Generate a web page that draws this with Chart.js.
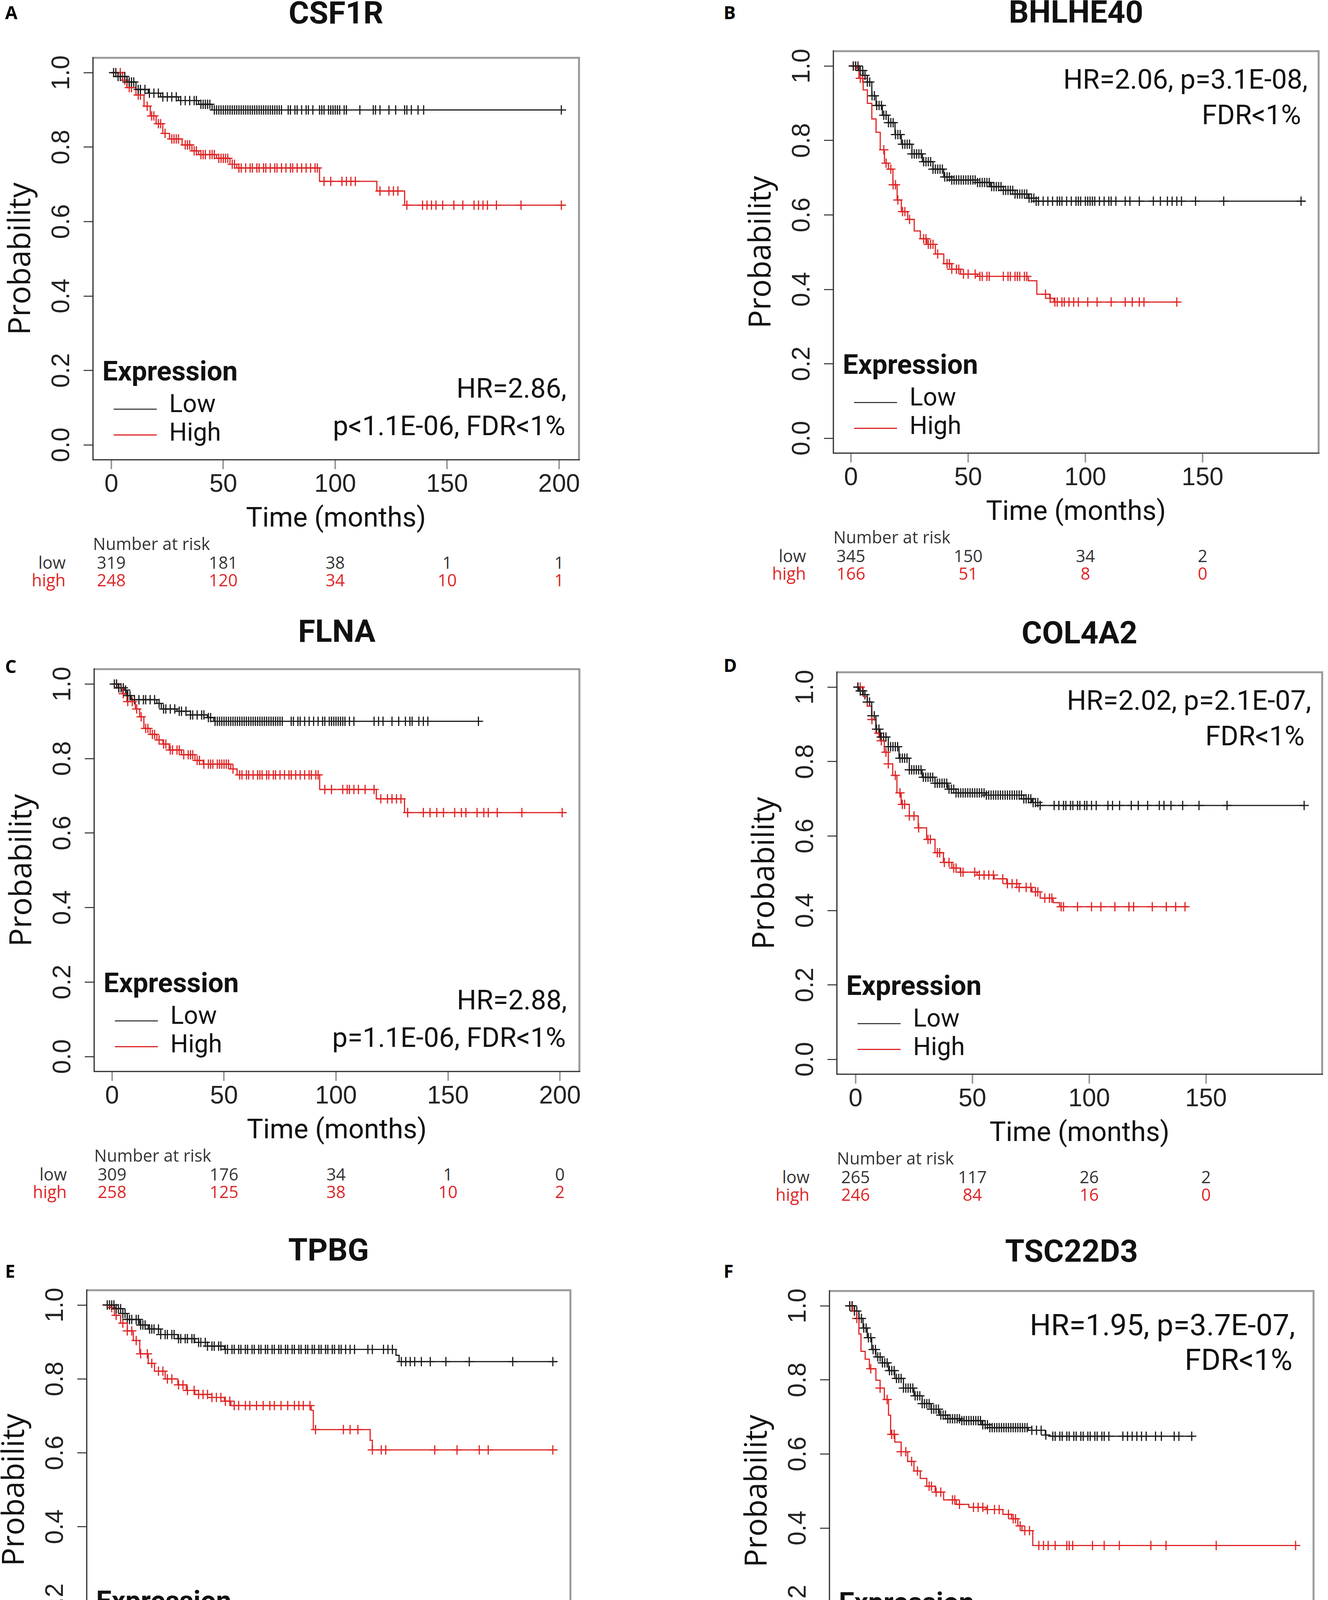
<!DOCTYPE html>
<html><head><meta charset="utf-8">
<script src="https://cdn.jsdelivr.net/npm/chart.js@4.4.1/dist/chart.umd.min.js"></script>
<style>
html,body{margin:0;padding:0;background:#fff;}
body{width:3399px;height:4670px;position:relative;overflow:hidden;}
canvas{position:absolute;}
.t{position:absolute;white-space:pre;line-height:1;}
.ln{position:absolute;height:3px;}
</style></head><body>
<script>
// ---------------- DATA ----------------
const GENES = ['CSF1R', 'BHLHE40', 'FLNA', 'COL4A2', 'TPBG', 'TSC22D3'];
const PANEL_IDS = ['A', 'B', 'C', 'D', 'E', 'F'];
const Y_TICKS = [0, 0.2, 0.4, 0.6, 0.8, 1.0];
const Y_LABELS = ['0.0', '0.2', '0.4', '0.6', '0.8', '1.0'];
const X_TICKS_200 = [0, 50, 100, 150, 200];
const X_LABELS_200 = ['0', '50', '100', '150', '200'];
const X_TICKS_150 = [0, 50, 100, 150];
const X_LABELS_150 = ['0', '50', '100', '150'];
const SERIES_NAMES = ['Low', 'High'];
const RISK_ROW_NAMES = ['low', 'high'];

// Panel A - CSF1R
const A_LOW_T = [0, 3, 7, 11, 16.5, 22, 30, 39, 45, 203];
const A_LOW_S = [1, 0.99, 0.975, 0.955, 0.945, 0.935, 0.925, 0.915, 0.90, 0.90];
const A_LOW_CENS = [1,2,3,4,5,6,7,8,9,10,12,13,15,17,19,21,23,25,27,29,31,33,35,37,38,40,41,42,43,44,46,47,48,49,50,51,52,53,54,55,56,57,58,59,60,61,62,63,64,65,66,67,68,69,70,71,72,73,74,75,76,79,80,82,83,85,87,88,90,93,94,95,97,98,99,100,101,102,104,105,111,117,118,120,124,127,131,132,134,137,139.5,201];
const A_HIGH_T = [0, 5, 7, 11, 14.6, 17.4, 20, 23, 26, 31.6, 36, 39, 47, 53, 56, 93, 118.6, 131, 203];
const A_HIGH_S = [1, 0.98, 0.96, 0.94, 0.91, 0.884, 0.863, 0.837, 0.822, 0.806, 0.79, 0.78, 0.77, 0.754, 0.744, 0.708, 0.682, 0.644, 0.644];
const A_HIGH_CENS = [2,4,6,8,9,12,13,16,18,19,21,22,24,27,28,29,30,33,34,35,37,38,40,41,42,44,45,46,48,49,50,51,52,54,55,57,58,60,62,63,65,66,68,69,71,73,74,76,78,80,81,83,85,87,89,91,92,95,98,103,105,107,109,120,124,126,128,132,139,141,143,145,148,153,157,162,164,166,168,172,183,201];
const A_RISK_LOW = [319, 181, 38, 1, 1];
const A_RISK_HIGH = [248, 120, 34, 10, 1];
const A_HR = ['HR=2.86,', 'p<1.1E-06, FDR<1%'];

// Panel B - BHLHE40
const B_LOW_T = [0, 3.4, 5.2, 7, 8.9, 10.7, 13.4, 16, 18.8, 21.5, 26, 30.5, 35, 39.6, 43, 54, 59.5, 65, 70, 75.7, 79, 194];
const B_LOW_S = [1, 0.988, 0.975, 0.957, 0.92, 0.894, 0.868, 0.848, 0.816, 0.79, 0.764, 0.743, 0.723, 0.702, 0.694, 0.687, 0.676, 0.666, 0.656, 0.645, 0.637, 0.637];
const B_LOW_CENS = [1,2,3,4,5,6,7,8,9,10,11,12,13,14,15,16,17,18,19,20,21,22,23,24,25,26,27,28,29,30,31,32,33,34,35,36,37,38,39,40,41,42,43,44,45,46,47,48,49,50,51,52,53,54,55,56,57,58,59,60,61,62,63,64,65,66,67,68,69,70,71,72,73,74,75,76,77,78,79,80,82,84,86,88,89,90,92,94,96,97,98,100,101,102,103,104,106,108,110,111,113,117,119,123,129,132,135,137,139,141,147,159,192];
const B_HIGH_T = [0, 2.5, 3.4, 5.2, 7, 8.9, 10.7, 12.5, 14.3, 16, 17.9, 19.7, 21.5, 24.2, 27, 29.6, 32.4, 36, 39.6, 43, 46.8, 54, 75.7, 79.3, 84.8, 86.6, 139];
const B_HIGH_S = [1, 0.993, 0.967, 0.936, 0.9, 0.858, 0.822, 0.775, 0.739, 0.723, 0.681, 0.64, 0.609, 0.588, 0.557, 0.536, 0.521, 0.495, 0.469, 0.454, 0.441, 0.435, 0.423, 0.387, 0.376, 0.366, 0.366];
const B_HIGH_CENS = [1,2,4,5,14,15,17,18,19,20,22,23,25,31,32,33,34,35,37,41,42,43,45,46,48,50,53,55,56,58,59,65,67,68,70,71,72,74,75,83,85,87,88,90,91,93,95,97,101,105,111,117,120,123,125,139];
const B_RISK_LOW = [345, 150, 34, 2];
const B_RISK_HIGH = [166, 51, 8, 0];
const B_HR = ['HR=2.06, p=3.1E-08,', 'FDR<1%'];

// Panel C - FLNA
const C_LOW_T = [0, 2.8, 5.7, 6.6, 8.5, 20, 22, 29, 35, 42.6, 45.4, 165.5];
const C_LOW_S = [1, 0.99, 0.984, 0.969, 0.958, 0.948, 0.933, 0.927, 0.917, 0.91, 0.90, 0.90];
const C_LOW_CENS = [1,2,3,4,5,6,7,8,10,12,14,15,17,19,21,23,24,26,28,30,31,33,35,36,38,40,41,43,44,46,47,48,49,50,51,52,53,54,55,56,57,58,59,60,61,62,63,64,65,66,67,68,69,70,71,72,73,74,75,76,80,81,83,84,86,88,90,92,94,95,97,98,99,100,101,102,103,104,106,108,117,119,121,125,128,131,133,134,137,139,141,163.6];
const C_HIGH_T = [0, 2.8, 4.7, 6.6, 10.4, 12.3, 14.2, 17, 20, 22.7, 25.5, 31, 37, 40.7, 53, 55.8, 92.7, 118, 130.6, 202.5];
const C_HIGH_S = [1, 0.99, 0.974, 0.953, 0.933, 0.912, 0.881, 0.865, 0.85, 0.839, 0.823, 0.81, 0.795, 0.785, 0.772, 0.756, 0.717, 0.692, 0.655, 0.655];
const C_HIGH_CENS = [2,3,5,7,9,11,13,15,16,18,19,21,23,24,26,27,29,30,32,34,35,36,38,39,41,43,44,45,47,48,49,50,51,52,54,57,58,60,61,63,65,66,67,69,70,72,73,75,77,79,80,82,84,86,88,89,91,92,95,98,103,105,106,108,110,113,117,120,123,125,127,129,132,139,142,145,148,153,156,158,163,166,168,172,183,201];
const C_RISK_LOW = [309, 176, 34, 1, 0];
const C_RISK_HIGH = [258, 125, 38, 10, 2];
const C_HR = ['HR=2.88,', 'p=1.1E-06, FDR<1%'];

// Panel D - COL4A2
const D_LOW_T = [0, 1.4, 3.3, 5, 6.9, 8.7, 10.5, 14, 18.6, 23, 28.5, 34, 39.4, 43, 55.7, 72, 75.5, 79, 192];
const D_LOW_S = [1, 0.99, 0.98, 0.96, 0.923, 0.887, 0.866, 0.84, 0.809, 0.778, 0.758, 0.742, 0.726, 0.716, 0.71, 0.70, 0.69, 0.682, 0.682];
const D_LOW_CENS = [1,2,3,4,5,6,7,8,9,10,11,12,13,14,15,16,17,18,19,20,21,22,23,24,25,26,27,28,29,30,31,32,33,34,35,36,37,38,39,40,41,42,43,44,45,46,47,48,49,50,51,52,53,54,55,56,57,58,59,60,61,62,63,64,65,66,67,68,69,70,71,72,73,74,75,76,77,78,79,85,87,89,90,92,93,95,96,98,99,101,103,108,110,113,118,121,125,130,132,135,140,147,159,192];
const D_HIGH_T = [0, 3.3, 5, 6.9, 8.7, 10.5, 12.3, 14, 15.9, 17.7, 19.5, 23, 26.8, 30.4, 34, 37.6, 41.2, 44.8, 52, 59.3, 64.7, 70, 75.5, 79, 84.6, 87.3, 142.4];
const D_HIGH_S = [1, 0.975, 0.949, 0.913, 0.876, 0.856, 0.825, 0.794, 0.763, 0.716, 0.685, 0.654, 0.622, 0.591, 0.555, 0.529, 0.514, 0.503, 0.495, 0.485, 0.472, 0.462, 0.45, 0.433, 0.421, 0.41, 0.41];
const D_HIGH_CENS = [1,2,7,10,11,13,14,17,19,20,21,23,25,27,31,32,35,36,38,40,42,43,45,46,51,53,55,57,59,63,65,67,69,70,73,75,77,78,81,83,84,88,89,95,101,105,111,117,119,127,133,137,141];
const D_RISK_LOW = [265, 117, 26, 2];
const D_RISK_HIGH = [246, 84, 16, 0];
const D_HR = ['HR=2.02, p=2.1E-07,', 'FDR<1%'];

// Panel E - TPBG
const E_LOW_T = [0, 4.2, 8, 10, 15.6, 19.4, 25, 32.7, 40.3, 46, 53.6, 130.6, 132, 203];
const E_LOW_S = [1, 0.99, 0.977, 0.961, 0.946, 0.935, 0.92, 0.909, 0.899, 0.889, 0.88, 0.864, 0.847, 0.847];
const E_LOW_CENS = [1,2,3,4,5,6,7,8,9,10,11,12,14,15,16,17,18,20,21,22,24,25,27,28,30,31,33,34,36,37,39,40,42,43,45,46,48,49,51,52,54,55,57,58,60,61,63,64,66,67,69,70,72,73,75,76,78,79,81,82,84,85,87,88,90,91,93,94,96,97,99,100,102,103,105,106,108,110,112,118,120,125,127,129,133,135,137,139,142,146,153,163.5,183,201];
const E_HIGH_T = [0, 2.3, 4.2, 7, 10, 12.7, 15.6, 19.4, 22.2, 27, 32.7, 36.5, 40.3, 48, 53.6, 56.5, 92.6, 93.5, 119, 120, 203];
const E_HIGH_S = [1, 0.993, 0.972, 0.951, 0.93, 0.904, 0.868, 0.842, 0.821, 0.80, 0.784, 0.769, 0.758, 0.75, 0.74, 0.728, 0.715, 0.663, 0.634, 0.608, 0.608];
const E_HIGH_CENS = [1,3,5,8,10,12,14,16,19,21,24,26,28,30,33,35,37,40,42,44,46,48,50,52,54,56,58,60,63,65,68,71,74,76,79,82,85,87,89,92,94.5,107,110,113.5,120,124,126,148,158,168,172,201];
const E_RISK_LOW = [386, 215, 56, 7, 1];
const E_RISK_HIGH = [181, 86, 16, 4, 1];
const E_HR = ['HR=2.65,', 'p=1.5E-06, FDR<1%'];

// Panel F - TSC22D3
const F_LOW_T = [0, 3, 4.9, 6.7, 8.5, 10.4, 12.2, 14.9, 17.6, 20.3, 24, 28.5, 32, 35.8, 39.4, 43, 48.5, 57.6, 61, 77.5, 84.8, 86.6, 148.4];
const F_LOW_S = [1, 0.986, 0.966, 0.94, 0.914, 0.882, 0.862, 0.846, 0.825, 0.804, 0.778, 0.757, 0.736, 0.721, 0.705, 0.695, 0.69, 0.679, 0.671, 0.664, 0.651, 0.648, 0.648];
const F_LOW_CENS = [1,2,3,4,5,6,7,8,9,10,11,12,13,14,15,16,17,18,19,20,21,22,23,24,25,26,27,28,29,30,31,32,33,34,35,36,37,38,39,40,41,42,43,44,45,46,47,48,49,50,51,52,53,54,55,56,57,58,59,60,61,62,63,64,65,66,67,68,69,70,71,72,73,74,75,76,77,79,81,83,85,88,89,91,92,94,95,97,98,100,101,103,104,106,107,109,110,112,118,120,122,124,126,128,132,134.5,140,142,147.5];
const F_HIGH_T = [0, 2.2, 4, 4.9, 5.8, 7.6, 9.4, 12.2, 14, 15.8, 17.6, 18.5, 20.3, 23, 25.8, 28.5, 31.2, 34, 37.6, 41.2, 46.7, 52, 59.4, 66.6, 70.3, 73, 74.8, 79.4, 193.8];
const F_HIGH_S = [1, 0.986, 0.966, 0.924, 0.877, 0.856, 0.83, 0.799, 0.778, 0.747, 0.705, 0.653, 0.632, 0.606, 0.58, 0.554, 0.534, 0.513, 0.497, 0.476, 0.464, 0.456, 0.45, 0.437, 0.425, 0.406, 0.393, 0.353, 0.353];
const F_HIGH_CENS = [1,2,4,10,14,17,19,20,23,25,27.5,30,35,36,38,40,45,46,48,54,56,58,60,63,65,69,71,72,74,76,78,82,84,86,89,94,95,96.5,105,110,116.5,130,136.5,158,192];
const F_RISK_LOW = [342, 147, 34, 0];
const F_RISK_HIGH = [169, 54, 8, 2];
const F_HR = ['HR=1.95, p=3.7E-07,', 'FDR<1%'];

// ---------------- LAYOUT (positions / styles only) ----------------
const LAYOUT = {
  A: {L: 238, T: 148, R: 1482, B: 1177, xmin: -8.2, xmax: 208.9, titleY: 40, letterX: 13, letterY: 31, hr: 'br'},
  B: {L: 2133, T: 131, R: 3375, B: 1160, xmin: -7.5, xmax: 199.5, titleY: 38, letterX: 1852, letterY: 31, hr: 'tr'},
  C: {L: 241, T: 1713, R: 1483, B: 2743, xmin: -8.0, xmax: 208.7, titleY: 1623, letterX: 13, letterY: 1705, hr: 'br'},
  D: {L: 2142, T: 1721, R: 3388, B: 2750, xmin: -8.0, xmax: 199.7, titleY: 1627, letterX: 1852, letterY: 1702, hr: 'tr'},
  E: {L: 222, T: 3303, R: 1460, B: 4325, xmin: -8.2, xmax: 208.9, titleY: 3207, letterX: 13, letterY: 3253, hr: 'br', xTail: true},
  F: {L: 2123, T: 3305, R: 3362, B: 4329, xmin: -7.7, xmax: 199.7, titleY: 3210, letterX: 1852, letterY: 3253, hr: 'tr', xTail: true, hrBig: true}
};
const BLACK = '#1c1c1c';
const RED = '#df2526';
const GREY = '#9a9a9a';
const DARK = '#2a2a2a';
const Y_W = 230, X_H = 215;

const DATA = {
  A: {lowT: A_LOW_T, lowS: A_LOW_S, lowC: A_LOW_CENS, highT: A_HIGH_T, highS: A_HIGH_S, highC: A_HIGH_CENS, rl: A_RISK_LOW, rh: A_RISK_HIGH, hr: A_HR, xt: X_TICKS_200, xl: X_LABELS_200},
  B: {lowT: B_LOW_T, lowS: B_LOW_S, lowC: B_LOW_CENS, highT: B_HIGH_T, highS: B_HIGH_S, highC: B_HIGH_CENS, rl: B_RISK_LOW, rh: B_RISK_HIGH, hr: B_HR, xt: X_TICKS_150, xl: X_LABELS_150},
  C: {lowT: C_LOW_T, lowS: C_LOW_S, lowC: C_LOW_CENS, highT: C_HIGH_T, highS: C_HIGH_S, highC: C_HIGH_CENS, rl: C_RISK_LOW, rh: C_RISK_HIGH, hr: C_HR, xt: X_TICKS_200, xl: X_LABELS_200},
  D: {lowT: D_LOW_T, lowS: D_LOW_S, lowC: D_LOW_CENS, highT: D_HIGH_T, highS: D_HIGH_S, highC: D_HIGH_CENS, rl: D_RISK_LOW, rh: D_RISK_HIGH, hr: D_HR, xt: X_TICKS_150, xl: X_LABELS_150},
  E: {lowT: E_LOW_T, lowS: E_LOW_S, lowC: E_LOW_CENS, highT: E_HIGH_T, highS: E_HIGH_S, highC: E_HIGH_CENS, rl: E_RISK_LOW, rh: E_RISK_HIGH, hr: E_HR, xt: X_TICKS_200, xl: X_LABELS_200},
  F: {lowT: F_LOW_T, lowS: F_LOW_S, lowC: F_LOW_CENS, highT: F_HIGH_T, highS: F_HIGH_S, highC: F_HIGH_CENS, rl: F_RISK_LOW, rh: F_RISK_HIGH, hr: F_HR, xt: X_TICKS_150, xl: X_LABELS_150}
};

// ---------------- HELPERS ----------------
function steps(T, S) { return T.map((t, i) => ({x: t, y: S[i]})); }
function survAt(T, S, t) { let s = S[0]; for (let i = 0; i < T.length; i++) { if (T[i] <= t) s = S[i]; else break; } return s; }
function censPts(T, S, C) { return C.map(t => ({x: t, y: survAt(T, S, t)})); }
function txt(s, x, y, font, color, anchor) {
  const d = document.createElement('div');
  d.className = 't'; d.textContent = s;
  d.style.font = font; d.style.color = color;
  d.style.left = x + 'px'; d.style.top = y + 'px';
  const tx = anchor === 'r' ? '-100%' : (anchor === 'c' ? '-50%' : '0');
  d.style.transform = 'translate(' + tx + ',-50%)';
  document.body.appendChild(d);
}
function hline(x, y, w, color) {
  const d = document.createElement('div');
  d.className = 'ln'; d.style.left = x + 'px'; d.style.top = (y - 1.5) + 'px';
  d.style.width = w + 'px'; d.style.background = color;
  document.body.appendChild(d);
}
const boxPlugin = {
  id: 'box',
  afterDatasetsDraw(chart) {
    const {ctx, chartArea: a} = chart;
    ctx.save();
    ctx.strokeStyle = GREY; ctx.lineWidth = 5;
    ctx.beginPath(); ctx.moveTo(a.left, a.top); ctx.lineTo(a.right, a.top); ctx.lineTo(a.right, a.bottom); ctx.stroke();
    ctx.strokeStyle = DARK; ctx.lineWidth = 3;
    ctx.beginPath(); ctx.moveTo(a.left, a.top - 2); ctx.lineTo(a.left, a.bottom); ctx.lineTo(a.right + 2, a.bottom); ctx.stroke();
    ctx.restore();
  }
};

Chart.defaults.font.family = 'Roboto';

PANEL_IDS.forEach((id, k) => {
  const p = LAYOUT[id], d = DATA[id];
  const padR = Math.min(40, 3399 - p.R);
  const cLeft = p.L - Y_W;
  const cTop = Math.max(0, p.titleY - 46);
  const W = p.R + padR - cLeft, H = p.B + X_H - cTop;
  const cv = document.createElement('canvas');
  cv.width = W; cv.height = H; cv.style.left = cLeft + 'px'; cv.style.top = cTop + 'px';
  cv.style.width = W + 'px'; cv.style.height = H + 'px';
  document.body.appendChild(cv);
  const tPadTop = p.titleY - 36 - cTop;
  const tPadBot = p.T - cTop - tPadTop - 72;
  const xTitle = p.xTail ? 'Time (months)  s)' : 'Time (months)';

  const chart = new Chart(cv, {
    type: 'line',
    data: {
      datasets: [
        {label: SERIES_NAMES[0], data: steps(d.lowT, d.lowS), stepped: true, borderColor: BLACK, borderWidth: 3, pointRadius: 0, fill: false},
        {label: SERIES_NAMES[1], data: steps(d.highT, d.highS), stepped: true, borderColor: RED, borderWidth: 3, pointRadius: 0, fill: false},
        {label: SERIES_NAMES[0] + ' censored', data: censPts(d.lowT, d.lowS, d.lowC), showLine: false, pointStyle: 'cross', pointRadius: 12, pointBorderWidth: 3, pointBorderColor: BLACK, borderColor: BLACK},
        {label: SERIES_NAMES[1] + ' censored', data: censPts(d.highT, d.highS, d.highC), showLine: false, pointStyle: 'cross', pointRadius: 12, pointBorderWidth: 3, pointBorderColor: RED, borderColor: RED}
      ]
    },
    options: {
      responsive: false, animation: false, devicePixelRatio: 1,
      layout: {padding: {left: 0, right: padR, top: 0, bottom: 0}},
      plugins: {
        legend: {display: false}, tooltip: {enabled: false},
        title: {display: true, text: GENES[k], fullSize: false, color: '#111',
          font: {family: 'Roboto', weight: 'bold', size: 80, lineHeight: 0.9},
          padding: {top: tPadTop, bottom: tPadBot}}
      },
      scales: {
        x: {
          type: 'linear', min: p.xmin, max: p.xmax,
          afterBuildTicks: s => { s.ticks = d.xt.map(v => ({value: v})); },
          afterFit: s => { s.height = X_H; },
          grid: {drawOnChartArea: false, drawTicks: true, tickLength: 24, color: GREY, lineWidth: 4},
          border: {display: false},
          ticks: {font: {family: 'Liberation Sans', size: 64, lineHeight: 1.2}, color: '#222', padding: 2,
            minRotation: 0, maxRotation: 0, autoSkip: false, callback: (v, i) => d.xl[i]},
          title: {display: true, text: xTitle, color: '#111', font: {family: 'Roboto', size: 70, lineHeight: 1.2}, padding: {top: 0, bottom: 20}}
        },
        y: {
          type: 'linear', min: -0.04, max: 1.04,
          afterBuildTicks: s => { s.ticks = Y_TICKS.map(v => ({value: v})); },
          afterFit: s => { s.width = Y_W; },
          grid: {drawOnChartArea: false, drawTicks: true, tickLength: 24, color: DARK, lineWidth: 2.5},
          border: {display: false},
          ticks: {font: {family: 'Liberation Sans', size: 64, lineHeight: 1.2}, color: '#222', padding: 10,
            minRotation: 90, maxRotation: 90, crossAlign: 'center', autoSkip: false, callback: (v, i) => Y_LABELS[i]},
          title: {display: true, text: 'Probability', color: '#111', font: {family: 'Open Sans', size: 78, lineHeight: 1.2}, padding: {top: 0, bottom: 0}}
        }
      }
    },
    plugins: [boxPlugin]
  });

  const a = chart.chartArea;
  const L = cLeft + a.left, R = cLeft + a.right, T = cTop + a.top, B = cTop + a.bottom;
  // panel letter
  txt(id, p.letterX, p.letterY, 'bold 46px/1 "Open Sans"', '#000', 'l');
  // legend
  txt('Expression', L + 24, B - 227, 'bold 70px/1 Roboto', '#111', 'l');
  hline(L + 53, B - 130, 110, '#444');
  hline(L + 53, B - 64, 110, RED);
  txt(SERIES_NAMES[0], L + 195, B - 143, '64px/1 Roboto', '#111', 'l');
  txt(SERIES_NAMES[1], L + 195, B - 70, '64px/1 Roboto', '#111', 'l');
  // HR text
  if (p.hr === 'br') {
    txt(d.hr[0], R - 32, B - 183, '70px/1 Roboto', '#111', 'r');
    txt(d.hr[1], R - 35, B - 87, '70px/1 Roboto', '#111', 'r');
  } else if (p.hrBig) {
    txt(d.hr[0], R - 47, T + 87, '76px/1 Roboto', '#111', 'r');
    txt(d.hr[1], R - 54, T + 176, '76px/1 Roboto', '#111', 'r');
  } else {
    txt(d.hr[0], R - 28, T + 72, '70px/1 Roboto', '#111', 'r');
    txt(d.hr[1], R - 45, T + 163, '70px/1 Roboto', '#111', 'r');
  }
  // number at risk table
  txt('Number at risk', L, B + 214, '43px/1 "Open Sans"', '#333', 'l');
  txt(RISK_ROW_NAMES[0], L - 70, B + 262, '43px/1 "Open Sans"', '#333', 'r');
  txt(RISK_ROW_NAMES[1], L - 70, B + 307, '43px/1 "Open Sans"', RED, 'r');
  d.xt.forEach((v, i) => {
    const px = cLeft + chart.scales.x.getPixelForValue(v);
    txt(String(d.rl[i]), px, B + 262, '43px/1 "Open Sans"', '#333', 'c');
    txt(String(d.rh[i]), px, B + 307, '43px/1 "Open Sans"', RED, 'c');
  });
});
</script>
</body></html>
